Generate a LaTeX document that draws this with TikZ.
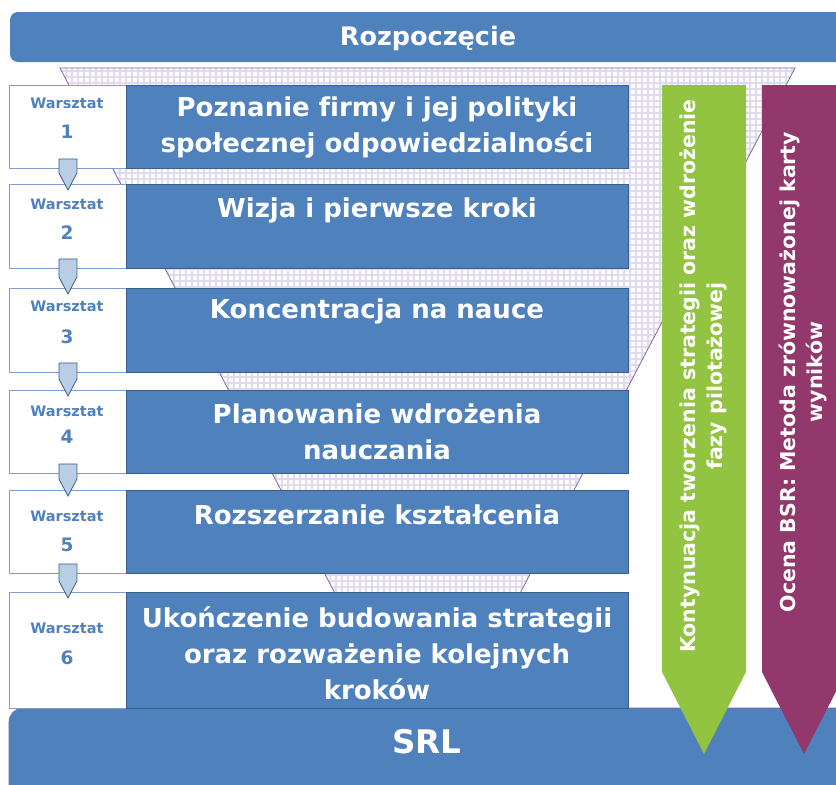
\documentclass[tikz,border=0pt]{standalone}
\usepackage{fontspec}
\setmainfont{DejaVu Sans}[Ligatures=NoCommon]
\definecolor{mblue}{RGB}{79,129,189}
\definecolor{dblue}{RGB}{56,93,138}
\definecolor{lblue}{RGB}{185,205,229}
\definecolor{wbord}{RGB}{126,160,206}
\definecolor{mgreen}{RGB}{146,196,65}
\definecolor{mmag}{RGB}{147,56,108}
\definecolor{gridc}{RGB}{224,218,238}
\definecolor{fline}{RGB}{128,100,162}
\tikzset{
  bluebox/.style={draw=dblue,line width=0.8pt,fill=mblue,anchor=north west,inner sep=0pt},
  wbox/.style={draw=wbord,line width=0.9pt,fill=white,anchor=north west,inner sep=0pt},
  btext/.style={text=white,font=\bfseries\fontsize{26}{36}\selectfont,align=center,inner sep=0pt},
  wlab/.style={text=mblue,font=\bfseries\fontsize{14.5}{16}\selectfont,inner sep=0pt},
  wnum/.style={text=mblue,font=\bfseries\fontsize{18.5}{20}\selectfont,inner sep=0pt},
  darr/.style={fill=lblue,draw=dblue,line width=0.8pt,line join=miter},
  rtext/.style={text=white,font=\bfseries\fontsize{20.5}{27}\selectfont,align=center,inner sep=0pt,rotate=90},
  gline/.style={gridc,line width=1.4pt}
}
\begin{document}
\begin{tikzpicture}[x=1pt,y=-1pt]
\useasboundingbox (0,0) rectangle (836,785);
\clip (0,0) rectangle (836,785);
% top banner
\fill[mblue,rounded corners=8pt] (10,12) rectangle (860,62);
\node[text=white,font=\bfseries\fontsize{25.5}{28}\selectfont] (start) at (428,38) {Rozpoczęcie};
% funnel
\begin{scope}
\clip (60,68) -- (795,68) -- (460,708) -- (395,708) -- cycle;
\fill[white] (40,60) rectangle (820,720);
\foreach \x in {42,48,...,816} \draw[gline] (\x,60) -- (\x,720);
\foreach \y in {71,77,...,716} \draw[gline] (40,\y) -- (820,\y);
\end{scope}
\draw[fline,line width=0.8pt] (395,708) -- (60,68) -- (795,68) -- (460,708);
% SRL bar
\fill[mblue,rounded corners=14pt,draw=fline,line width=0.6pt] (9,708) rectangle (870,810);
\node[text=white,font=\bfseries\fontsize{32.5}{34}\selectfont] (srl) at (427,742) {SRL};
% rows
\foreach \i/\t/\b in {1/85/168,2/184/268,3/288/372,4/390/473,5/490/573,6/592/708}{
  \node[wbox,minimum width=117pt,minimum height={\b-\t}] (w\i) at (9,\t) {};
  \node[bluebox,minimum width=502pt,minimum height={\b-\t}] (b\i) at (126,\t) {};
}
% left labels
\foreach \i/\wy/\ny in {1/103/132,2/204/233,3/306/337,4/411/437,5/516/545,6/628/658}{
  \node[wlab] (wl\i) at (67,\wy) {Warsztat};
  \node[wnum] (wn\i) at (67,\ny) {\i};
}
% row texts
\node[btext] (t1) at (377,127) {Poznanie firmy i jej polityki\\społecznej odpowiedzialności};
\node[btext] (t2) at (377,210) {Wizja i pierwsze kroki};
\node[btext] (t3) at (377,311) {Koncentracja na nauce};
\node[btext] (t4) at (377,431.5) {Planowanie wdrożenia\\nauczania};
\node[btext] (t5) at (377,515) {Rozszerzanie kształcenia};
\node[btext] (t6) at (377,653.5) {Ukończenie budowania strategii\\oraz rozważenie kolejnych\\kroków};
% small down arrows
\foreach \i/\j in {1/2,2/3,3/4,4/5,5/6}{
  \path (w\i.south) ++(0,-10) coordinate (s\i);
  \path (w\j.north) ++(0,6) coordinate (e\i);
  \draw[darr] ([xshift=-9pt]s\i) -- ([xshift=9pt]s\i) -- ([xshift=9pt,yshift=17pt]e\i) -- (e\i) -- ([xshift=-9pt,yshift=17pt]e\i) -- cycle;
}
% right arrows
\fill[mgreen] (662,85) -- (746,85) -- (746,672) -- (704,754) -- (662,672) -- cycle;
\node[rtext] (g) at (703,376) {Kontynuacja tworzenia strategii oraz wdrożenie\\fazy pilotażowej};
\fill[mmag] (762,85) -- (846,85) -- (846,672) -- (804,754) -- (762,672) -- cycle;
\node[rtext] (m) at (803,372) {Ocena BSR: Metoda zrównoważonej karty\\wyników};
\end{tikzpicture}
\end{document}
